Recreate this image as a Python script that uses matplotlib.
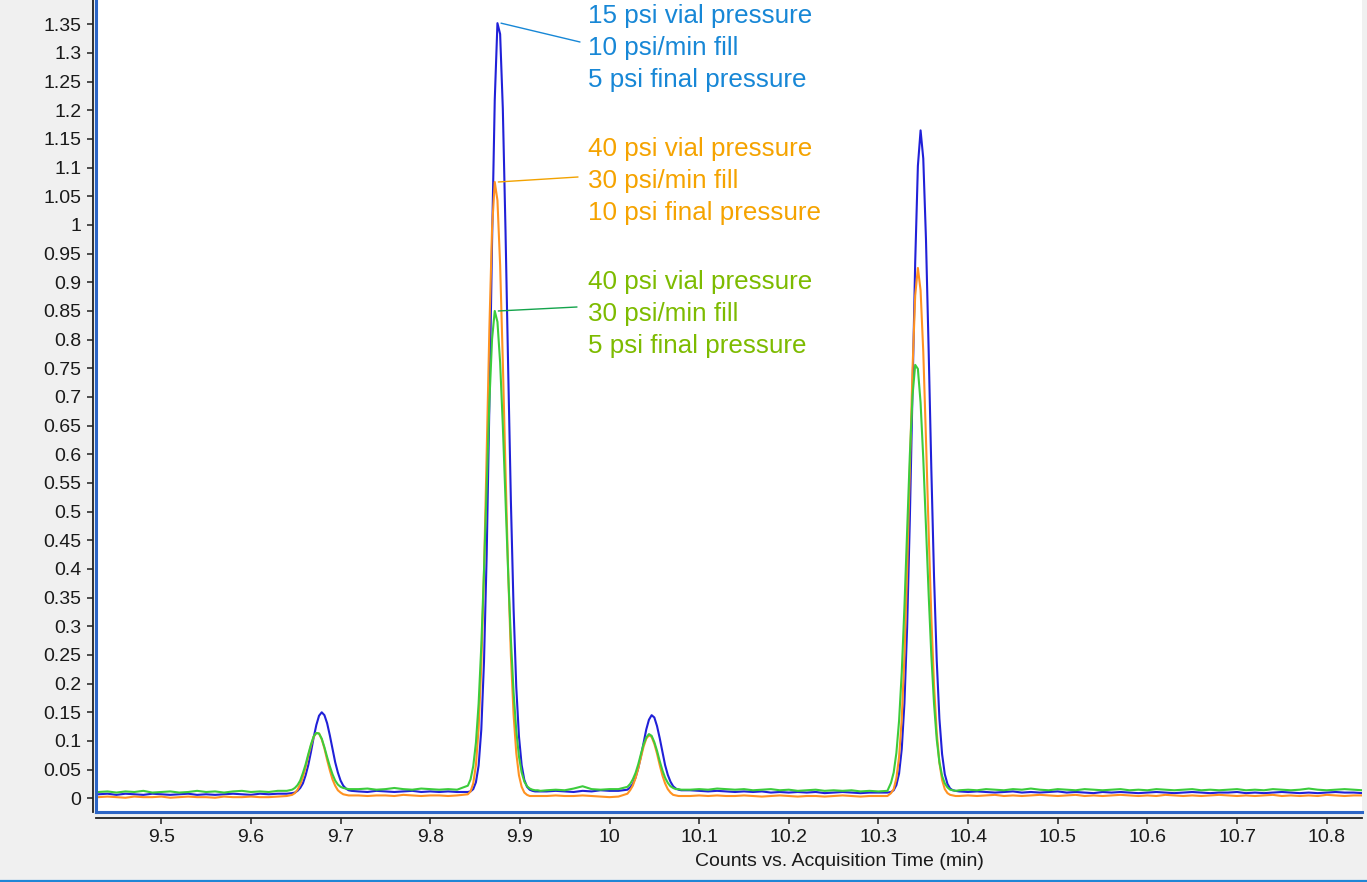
import matplotlib
matplotlib.use('Agg')
import matplotlib.pyplot as plt
from matplotlib.ticker import MultipleLocator, FormatStrFormatter
from matplotlib.lines import Line2D

plt.rcParams['font.family'] = ['Liberation Sans', 'DejaVu Sans']

W, H = 1367, 882

# acquisition time (min): sparse on the baseline, dense over the four peaks
time_min = [
    9.43, 9.44, 9.45, 9.46, 9.47, 9.48, 9.49, 9.50, 9.51, 9.52,
    9.53, 9.54, 9.55, 9.56, 9.57, 9.58, 9.59, 9.60, 9.61, 9.62,
    9.63, 9.64,
    9.646, 9.649, 9.652, 9.655, 9.658, 9.661, 9.664, 9.667, 9.670, 9.673,
    9.676, 9.679, 9.682, 9.685, 9.688, 9.691, 9.694, 9.697, 9.700, 9.703,
    9.706, 9.709, 9.712,
    9.72, 9.73, 9.74, 9.75, 9.76, 9.77, 9.78, 9.79, 9.80, 9.81, 9.82, 9.83,
    9.842, 9.845, 9.848, 9.851, 9.854, 9.857, 9.860, 9.863, 9.866, 9.869,
    9.872, 9.875, 9.878, 9.881, 9.884, 9.887, 9.890, 9.893, 9.896, 9.899,
    9.902, 9.905, 9.908, 9.911, 9.914, 9.917, 9.920, 9.923,
    9.93, 9.94, 9.95, 9.96, 9.97, 9.98, 9.99, 10.00, 10.01,
    10.020, 10.023, 10.026, 10.029, 10.032, 10.035, 10.038, 10.041, 10.044, 10.047,
    10.050, 10.053, 10.056, 10.059, 10.062, 10.065, 10.068, 10.071, 10.074, 10.077,
    10.080, 10.083,
    10.09, 10.10, 10.11, 10.12, 10.13, 10.14, 10.15, 10.16, 10.17, 10.18,
    10.19, 10.20, 10.21, 10.22, 10.23, 10.24, 10.25, 10.26, 10.27, 10.28,
    10.29, 10.30, 10.31,
    10.314, 10.317, 10.320, 10.323, 10.326, 10.329, 10.332, 10.335, 10.338, 10.341,
    10.344, 10.347, 10.350, 10.353, 10.356, 10.359, 10.362, 10.365, 10.368, 10.371,
    10.374, 10.377, 10.380, 10.383, 10.386,
    10.39, 10.40, 10.41, 10.42, 10.43, 10.44, 10.45, 10.46, 10.47, 10.48,
    10.49, 10.50, 10.51, 10.52, 10.53, 10.54, 10.55, 10.56, 10.57, 10.58,
    10.59, 10.60, 10.61, 10.62, 10.63, 10.64, 10.65, 10.66, 10.67, 10.68,
    10.69, 10.70, 10.71, 10.72, 10.73, 10.74, 10.75, 10.76, 10.77, 10.78,
    10.79, 10.80, 10.81, 10.82, 10.83, 10.84,
]

# 15 psi vial / 10 psi/min fill / 5 psi final
counts_15psi = [
    0.007, 0.008, 0.006, 0.008, 0.007, 0.006, 0.008, 0.007, 0.006, 0.007,
    0.008, 0.006, 0.007, 0.006, 0.007, 0.008, 0.007, 0.006, 0.008, 0.007,
    0.008, 0.008,
    0.009, 0.010, 0.013, 0.018, 0.026, 0.040, 0.058, 0.081, 0.106, 0.128,
    0.144, 0.150, 0.145, 0.131, 0.110, 0.086, 0.063, 0.045, 0.031, 0.022,
    0.017, 0.014, 0.013,
    0.012, 0.011, 0.013, 0.012, 0.011, 0.012, 0.013, 0.011, 0.012, 0.011, 0.012, 0.011,
    0.011, 0.012, 0.016, 0.028, 0.057, 0.120, 0.238, 0.425, 0.685, 0.971,
    1.218, 1.352, 1.333, 1.203, 0.990, 0.747, 0.518, 0.331, 0.194, 0.108,
    0.058, 0.032, 0.020, 0.015, 0.013, 0.012, 0.012, 0.012,
    0.012, 0.013, 0.012, 0.011, 0.013, 0.012, 0.014, 0.013, 0.013,
    0.015, 0.019, 0.025, 0.036, 0.052, 0.073, 0.097, 0.120, 0.137, 0.145,
    0.141, 0.126, 0.105, 0.081, 0.058, 0.041, 0.029, 0.021, 0.017, 0.015,
    0.014, 0.014,
    0.014, 0.013, 0.012, 0.013, 0.012, 0.011, 0.012, 0.011, 0.012, 0.010,
    0.011, 0.010, 0.011, 0.010, 0.011, 0.009, 0.010, 0.011, 0.010, 0.009,
    0.010, 0.010, 0.010,
    0.011, 0.014, 0.023, 0.043, 0.086, 0.166, 0.298, 0.485, 0.711, 0.935,
    1.103, 1.165, 1.116, 0.976, 0.782, 0.574, 0.387, 0.241, 0.139, 0.077,
    0.042, 0.025, 0.017, 0.014, 0.013,
    0.012, 0.011, 0.012, 0.011, 0.010, 0.011, 0.012, 0.010, 0.011, 0.010,
    0.011, 0.012, 0.010, 0.011, 0.010, 0.009, 0.011, 0.010, 0.011, 0.010,
    0.009, 0.010, 0.011, 0.010, 0.009, 0.010, 0.011, 0.010, 0.009, 0.010,
    0.010, 0.011, 0.009, 0.010, 0.009, 0.010, 0.011, 0.010, 0.009, 0.010,
    0.009, 0.010, 0.011, 0.010, 0.010, 0.009,
]

# 40 psi vial / 30 psi/min fill / 10 psi final
counts_40psi_10 = [
    0.002, 0.003, 0.002, 0.001, 0.003, 0.002, 0.002, 0.003, 0.001, 0.002,
    0.003, 0.002, 0.002, 0.001, 0.003, 0.002, 0.002, 0.003, 0.002, 0.002,
    0.003, 0.004,
    0.006, 0.009, 0.015, 0.024, 0.037, 0.054, 0.074, 0.092, 0.107, 0.114,
    0.113, 0.103, 0.087, 0.067, 0.049, 0.033, 0.022, 0.014, 0.010, 0.007,
    0.006, 0.005, 0.005,
    0.005, 0.004, 0.005, 0.005, 0.004, 0.006, 0.005, 0.004, 0.005, 0.005, 0.004, 0.005,
    0.007, 0.012, 0.026, 0.058, 0.122, 0.231, 0.395, 0.602, 0.819, 0.994,
    1.075, 1.043, 0.930, 0.761, 0.572, 0.394, 0.249, 0.146, 0.079, 0.040,
    0.020, 0.010, 0.006, 0.004, 0.004, 0.004, 0.004, 0.004,
    0.004, 0.005, 0.004, 0.004, 0.005, 0.004, 0.003, 0.002, 0.003,
    0.008, 0.014, 0.022, 0.035, 0.052, 0.071, 0.090, 0.104, 0.110, 0.107,
    0.095, 0.078, 0.058, 0.040, 0.026, 0.016, 0.010, 0.006, 0.005, 0.004,
    0.004, 0.004,
    0.004, 0.005, 0.004, 0.005, 0.004, 0.004, 0.005, 0.004, 0.003, 0.004,
    0.005, 0.004, 0.003, 0.004, 0.004, 0.003, 0.004, 0.005, 0.004, 0.003,
    0.004, 0.004, 0.004,
    0.009, 0.016, 0.035, 0.072, 0.139, 0.248, 0.397, 0.575, 0.748, 0.877,
    0.925, 0.886, 0.779, 0.628, 0.465, 0.316, 0.198, 0.115, 0.062, 0.032,
    0.016, 0.009, 0.006, 0.005, 0.004,
    0.004, 0.005, 0.004, 0.005, 0.006, 0.004, 0.005, 0.004, 0.005, 0.006,
    0.005, 0.004, 0.005, 0.006, 0.004, 0.005, 0.004, 0.005, 0.006, 0.005,
    0.004, 0.005, 0.004, 0.006, 0.005, 0.004, 0.005, 0.004, 0.005, 0.006,
    0.005, 0.004, 0.005, 0.004, 0.005, 0.006, 0.004, 0.005, 0.004, 0.005,
    0.004, 0.006, 0.005, 0.004, 0.005, 0.005,
]

# 40 psi vial / 30 psi/min fill / 5 psi final
counts_40psi_5 = [
    0.011, 0.012, 0.010, 0.012, 0.011, 0.013, 0.010, 0.011, 0.012, 0.010,
    0.011, 0.013, 0.011, 0.012, 0.010, 0.012, 0.013, 0.011, 0.012, 0.011,
    0.013, 0.013,
    0.015, 0.018, 0.023, 0.031, 0.044, 0.059, 0.077, 0.094, 0.108, 0.114,
    0.113, 0.104, 0.089, 0.072, 0.056, 0.042, 0.031, 0.024, 0.020, 0.018,
    0.017, 0.016, 0.016,
    0.016, 0.017, 0.015, 0.016, 0.018, 0.016, 0.015, 0.017, 0.016, 0.015, 0.016, 0.015,
    0.022, 0.033, 0.056, 0.097, 0.165, 0.266, 0.397, 0.547, 0.691, 0.801,
    0.850, 0.831, 0.760, 0.650, 0.521, 0.392, 0.277, 0.185, 0.118, 0.073,
    0.045, 0.029, 0.021, 0.017, 0.015, 0.014, 0.014, 0.013,
    0.014, 0.015, 0.014, 0.017, 0.021, 0.016, 0.015, 0.016, 0.016,
    0.020, 0.025, 0.033, 0.044, 0.059, 0.077, 0.094, 0.106, 0.112, 0.109,
    0.098, 0.083, 0.065, 0.049, 0.036, 0.027, 0.021, 0.018, 0.016, 0.016,
    0.015, 0.015,
    0.015, 0.016, 0.015, 0.017, 0.016, 0.015, 0.016, 0.014, 0.015, 0.016,
    0.014, 0.015, 0.013, 0.014, 0.015, 0.013, 0.014, 0.013, 0.014, 0.012,
    0.013, 0.012, 0.013,
    0.027, 0.045, 0.079, 0.135, 0.220, 0.334, 0.466, 0.598, 0.702, 0.756,
    0.749, 0.690, 0.593, 0.475, 0.356, 0.249, 0.165, 0.103, 0.063, 0.039,
    0.026, 0.019, 0.015, 0.014, 0.013,
    0.014, 0.015, 0.014, 0.016, 0.015, 0.014, 0.016, 0.015, 0.017, 0.015,
    0.014, 0.016, 0.015, 0.014, 0.016, 0.015, 0.014, 0.015, 0.016, 0.014,
    0.015, 0.014, 0.016, 0.015, 0.014, 0.015, 0.016, 0.014, 0.015, 0.014,
    0.015, 0.016, 0.014, 0.015, 0.014, 0.016, 0.015, 0.014, 0.015, 0.017,
    0.015, 0.014, 0.015, 0.016, 0.015, 0.014,
]

labels_15psi = ['15 psi vial pressure', '10 psi/min fill', '5 psi final pressure']
labels_40psi_10 = ['40 psi vial pressure', '30 psi/min fill', '10 psi final pressure']
labels_40psi_5 = ['40 psi vial pressure', '30 psi/min fill', '5 psi final pressure']

for s in (counts_15psi, counts_40psi_10, counts_40psi_5):
    assert len(s) == len(time_min), (len(s), len(time_min))

fig = plt.figure(figsize=(W / 100, H / 100), dpi=100, facecolor='#f0f0f0')
ax = fig.add_axes([96 / W, 1 - 812 / H, (1362 - 96) / W, 812 / H])
ax.set_facecolor('white')

ax.plot(time_min, counts_15psi, color='#2020d8', lw=1.5)
ax.plot(time_min, counts_40psi_10, color='#ff9222', lw=1.5)
ax.plot(time_min, counts_40psi_5, color='#3ccc3c', lw=1.5)

ax.set_xlim(9.4272, 10.8394)
ax.set_ylim(-0.0239, 1.3924)
ax.xaxis.set_major_locator(MultipleLocator(0.1))
ax.yaxis.set_major_locator(MultipleLocator(0.05))
ax.xaxis.set_major_formatter(FormatStrFormatter('%g'))
ax.yaxis.set_major_formatter(FormatStrFormatter('%g'))
ax.tick_params(axis='both', direction='out', length=4.5, width=1.1,
               color='#202020', labelsize=14, labelcolor='#1a1a1a', pad=4)

for side in ('top', 'right'):
    ax.spines[side].set_visible(False)
ax.spines['left'].set_position(('outward', 2))
ax.spines['bottom'].set_position(('outward', 4))
for side in ('left', 'bottom'):
    ax.spines[side].set_color('#202020')
    ax.spines[side].set_linewidth(1.3)

# blue frame of the plot area
ax.add_line(Line2D([0, 0], [0, 1], transform=ax.transAxes, color='#2d66c6',
                   lw=2.2, clip_on=False))
ax.add_line(Line2D([0, 1], [0, 0], transform=ax.transAxes, color='#2d66c6',
                   lw=2.2, clip_on=False))
fig.add_artist(Line2D([0, 1], [1.2 / H, 1.2 / H], color='#1f86d6', lw=1.6))

ax.set_xlabel('Counts vs. Acquisition Time (min)', fontsize=14, color='#1a1a1a')
ax.xaxis.set_label_coords((839 - 96) / (1362 - 96), -0.051)


def tag_peak(counts, lines, color, line_color, y_first, end_px):
    # leader from the tallest point of the trace to the text block
    i = counts.index(max(counts))
    ax.annotate('', xy=(time_min[i] + 0.004, counts[i]),
                xytext=(end_px[0] / W, 1 - end_px[1] / H),
                textcoords='figure fraction',
                arrowprops=dict(arrowstyle='-', color=line_color, lw=1.0,
                                shrinkA=0, shrinkB=0))
    for k, txt in enumerate(lines):
        fig.text(588 / W, 1 - (y_first + 32 * k) / H, txt, color=color,
                 fontsize=18.7, va='center', ha='left')


tag_peak(counts_15psi, labels_15psi, '#1787d6', '#1787d6', 16, (580, 42))
tag_peak(counts_40psi_10, labels_40psi_10, '#f5a300', '#f2a200', 149, (578, 177))
tag_peak(counts_40psi_5, labels_40psi_5, '#7dbb00', '#14a44c', 282, (577, 307))

fig.savefig('out.png', dpi=100, facecolor=fig.get_facecolor())
